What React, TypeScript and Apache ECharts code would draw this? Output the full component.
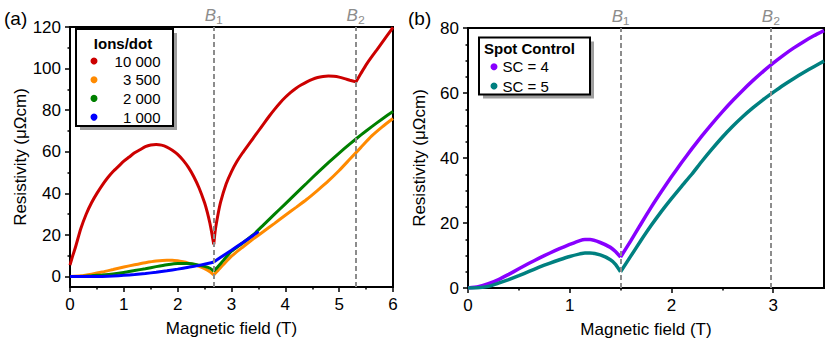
import React, { useEffect, useRef } from 'react';
import * as echarts from 'echarts';

const FONT = '"Liberation Sans", Arial, Helvetica, sans-serif';

// ---------- Panel (a): Ions/dot ----------
const ionsTitle = 'Ions/dot';
const ionsNames = ['10 000', '3 500', '2 000', '1 000'];
const ionsColors = ['#cc0000', '#ff8a00', '#008000', '#0000ff'];

const red_x = [0, 0.05, 0.1, 0.2, 0.3, 0.4, 0.5, 0.6, 0.7, 0.8, 0.9, 1.0, 1.1, 1.2, 1.3, 1.4, 1.5, 1.6, 1.7, 1.8, 1.9, 2.0, 2.1, 2.2, 2.3, 2.4, 2.5, 2.55, 2.6, 2.64, 2.67,
  2.7, 2.75, 2.8, 2.9, 3.0, 3.1, 3.2, 3.3, 3.4, 3.5, 3.6, 3.7, 3.8, 3.9, 4.0, 4.1, 4.2, 4.3, 4.4, 4.5, 4.6, 4.7, 4.8, 4.9, 5.0, 5.1, 5.2, 5.31,
  5.4, 5.5, 5.6, 5.7, 5.8, 5.9, 6.0];
const red_y = [5.5, 10, 14, 23, 30, 35.5, 40, 44, 47.5, 50.5, 53, 55.5, 57.5, 59.5, 61, 62.5, 63.3, 63.5, 63.2, 62.3, 60.8, 58.8, 56, 52.5, 48, 42.5, 35.5, 31, 25.5, 20, 15.5,
  22.5, 30, 36, 44.5, 50.5, 55.3, 59.3, 62.9, 66.4, 70, 73.6, 77.1, 80.4, 83.5, 86.2, 88.6, 90.6, 92.2, 93.6, 94.8, 95.7, 96.2, 96.4, 96.3, 95.9, 95.2, 94.4, 93.6,
  97.5, 101.8, 105.5, 109, 112.6, 116.2, 119.8];

const orange_x = [0, 0.2, 0.4, 0.6, 0.8, 1.0, 1.2, 1.4, 1.6, 1.8, 1.9, 2.0, 2.1, 2.2, 2.3, 2.4, 2.5, 2.6, 2.67,
  2.75, 2.85, 3.0, 3.2, 3.4, 3.6, 3.8, 4.0, 4.2, 4.4, 4.6, 4.8, 5.0, 5.2, 5.4, 5.6, 5.8, 6.0];
const orange_y = [0, 0.4, 1.2, 2.2, 3.4, 4.6, 5.7, 6.7, 7.5, 7.9, 7.9, 7.6, 7.1, 6.5, 5.8, 4.9, 3.8, 2.3, 0.8,
  3.0, 5.8, 9.8, 14, 18, 21.8, 25.6, 29.5, 33.3, 37.2, 41.5, 46, 51, 56.5, 62, 67.5, 72, 76];

const green_x = [0, 0.2, 0.4, 0.6, 0.8, 1.0, 1.2, 1.4, 1.6, 1.8, 2.0, 2.2, 2.4, 2.5, 2.6, 2.67,
  2.75, 2.85, 3.0, 3.2, 3.4, 3.6, 3.8, 4.0, 4.2, 4.4, 4.6, 4.8, 5.0, 5.2, 5.4, 5.6, 5.8, 6.0];
const green_y = [0, 0.1, 0.4, 0.8, 1.3, 2.0, 2.9, 3.8, 4.8, 5.7, 6.3, 6.3, 5.5, 4.9, 4.0, 2.6,
  4.8, 7.8, 12.2, 16, 20, 25, 30, 35, 40, 45, 50, 54.8, 59.4, 63.8, 68, 72, 75.8, 79.4];

const blue_x = [0, 0.4, 0.6, 0.8, 1.0, 1.2, 1.4, 1.6, 1.8, 2.0, 2.2, 2.4, 2.6, 2.67,
  2.8, 3.0, 3.2, 3.4, 3.5];
const blue_y = [0, 0, 0.1, 0.3, 0.6, 1.0, 1.5, 2.1, 2.8, 3.6, 4.5, 5.4, 6.5, 7.0,
  9.3, 12.7, 16.2, 19.8, 21.7];

const aBreaks = [[2.67, 5.31], [2.67], [2.67], [2.67]];
const aYTicks = [0, 20, 40, 60, 80, 100, 120];
const aYMinor = [10, 30, 50, 70, 90, 110];
const aBLines = [2.67, 5.31];

// ---------- Panel (b): Spot Control ----------
const scTitle = 'Spot Control';
const scNames = ['SC = 4', 'SC = 5'];
const scColors = ['#8800ff', '#008080'];

const sc_x = [0, 0.1, 0.2, 0.3, 0.4, 0.5, 0.6, 0.7, 0.8, 0.9, 1.0, 1.1, 1.15, 1.2, 1.3, 1.4, 1.45, 1.5,
  1.6, 1.7, 1.8, 1.9, 2.0, 2.1, 2.2, 2.3, 2.4, 2.5, 2.6, 2.7, 2.8, 2.9, 3.0, 3.1, 3.2, 3.3, 3.4, 3.5];
const sc4_y = [0, 0.4, 1.3, 2.6, 4.2, 5.9, 7.6, 9.2, 10.7, 12.1, 13.4, 14.6, 14.9, 14.9, 14.0, 12.5, 11.2, 9.5,
  14.5, 19.7, 24.8, 29.6, 34.2, 38.6, 42.8, 46.8, 50.6, 54.2, 57.6, 60.8, 63.8, 66.6, 69.2, 71.6, 73.8, 75.8, 77.6, 79.2];
const sc5_y = [0, 0.1, 0.5, 1.5, 2.6, 3.8, 5.1, 6.4, 7.6, 8.7, 9.7, 10.5, 10.8, 10.8, 10.2, 8.7, 7.3, 5.0,
  9.8, 14.6, 19.2, 23.5, 27.5, 31.3, 35.0, 39.0, 42.8, 46.4, 49.7, 52.7, 55.4, 57.9, 60.2, 62.4, 64.4, 66.3, 68.1, 69.8];

const bBreaks = [1.5];
const bXTicks = [0, 1, 2, 3];
const bXMinor = [0.5, 1.5, 2.5];
const bBLines = [1.5, 2.98];

const subs = ['\u2081', '\u2082'];

function segments(xs: number[], ys: number[], breaks: number[]) {
  const out: number[][][] = [];
  let cur: number[][] = [];
  xs.forEach((x, i) => {
    cur.push([x, ys[i]]);
    if (breaks.includes(x) && i < xs.length - 1) {
      out.push(cur);
      cur = [[x, ys[i]]];
    }
  });
  out.push(cur);
  return out;
}

const txt = { color: '#000', fontSize: 17, fontFamily: FONT };

function markLineFor(values: number[]) {
  return {
    silent: true,
    symbol: ['none', 'none'],
    lineStyle: { color: '#8c8c8c', type: [5, 3], width: 2 },
    label: {
      show: true,
      position: 'end',
      distance: 2,
      formatter: (p: any) => `{i|B}{s|${subs[p.dataIndex]}}`,
      rich: {
        i: { fontSize: 17, fontStyle: 'italic', color: '#8c8c8c', fontFamily: FONT },
        s: { fontSize: 19, color: '#8c8c8c', fontFamily: FONT },
      },
    },
    data: values.map((v) => ({ xAxis: v })),
  };
}

export default function App() {
  const ref = useRef<HTMLDivElement>(null);
  useEffect(() => {
    if (!ref.current) return;
    const chart = echarts.init(ref.current, undefined, { renderer: 'svg' });

    const series: any[] = [];
    const aData = [[red_x, red_y], [orange_x, orange_y], [green_x, green_y], [blue_x, blue_y]];
    aData.forEach(([xs, ys], k) => {
      segments(xs, ys, aBreaks[k]).forEach((seg, j) => {
        const s: any = {
          type: 'line', name: ionsNames[k], xAxisIndex: 0, yAxisIndex: 0,
          data: seg, showSymbol: false, smooth: 0.2, color: ionsColors[k],
          lineStyle: { width: 3, color: ionsColors[k] }, emphasis: { disabled: true },
        };
        if (k === 0 && j === 0) s.markLine = markLineFor(aBLines);
        series.push(s);
      });
    });
    [sc4_y, sc5_y].forEach((ys, k) => {
      segments(sc_x, ys, bBreaks).forEach((seg, j) => {
        const s: any = {
          type: 'line', name: scNames[k], xAxisIndex: 1, yAxisIndex: 2,
          data: seg, showSymbol: false, smooth: 0.2, color: scColors[k],
          lineStyle: { width: 3.5, color: scColors[k] }, emphasis: { disabled: true },
        };
        if (k === 0 && j === 0) s.markLine = markLineFor(bBLines);
        series.push(s);
      });
    });

    const axisLine = { show: true, onZero: false, lineStyle: { color: '#000', width: 2 } };
    const tickStyle = { color: '#000', width: 1.5 };

    chart.setOption({
      animation: false,
      backgroundColor: '#fff',
      grid: [
        { left: 70, top: 27, width: 323, height: 260, show: true, borderColor: '#000', borderWidth: 2, backgroundColor: 'transparent' },
        { left: 468, top: 28, width: 356, height: 260, show: true, borderColor: '#000', borderWidth: 2, backgroundColor: 'transparent' },
      ],
      xAxis: [
        {
          type: 'value', gridIndex: 0, min: 0, max: 6, interval: 1,
          axisLine, axisTick: { show: true, length: 5, lineStyle: tickStyle },
          minorTick: { show: true, splitNumber: 2, length: 2.5, lineStyle: tickStyle },
          axisLabel: { ...txt, margin: 9 }, splitLine: { show: false }, minorSplitLine: { show: false },
          name: 'Magnetic field (T)', nameLocation: 'middle', nameGap: 33, nameTextStyle: txt,
        },
        {
          type: 'value', gridIndex: 1, min: 0, max: 3.5,
          axisLine, axisTick: { show: true, length: 5, lineStyle: tickStyle, customValues: bXTicks },
          axisLabel: { ...txt, margin: 9, customValues: bXTicks }, splitLine: { show: false },
          name: 'Magnetic field (T)', nameLocation: 'middle', nameGap: 33, nameTextStyle: txt,
        },
        {
          type: 'value', gridIndex: 1, min: 0, max: 3.5, position: 'bottom',
          axisLine: { show: false }, axisLabel: { show: false }, splitLine: { show: false },
          axisTick: { show: true, length: 2.5, lineStyle: tickStyle, customValues: bXMinor },
        },
      ],
      yAxis: [
        {
          type: 'value', gridIndex: 0, min: -5, max: 120,
          axisLine, axisTick: { show: true, length: 5, lineStyle: tickStyle, customValues: aYTicks },
          axisLabel: { ...txt, margin: 9, customValues: aYTicks }, splitLine: { show: false },
          name: 'Resistivity (\u03bc\u03a9cm)', nameLocation: 'middle', nameRotate: 90, nameGap: 41, nameTextStyle: txt,
        },
        {
          type: 'value', gridIndex: 0, min: -5, max: 120, position: 'left',
          axisLine: { show: false }, axisLabel: { show: false }, splitLine: { show: false },
          axisTick: { show: true, length: 2.5, lineStyle: tickStyle, customValues: aYMinor },
        },
        {
          type: 'value', gridIndex: 1, min: 0, max: 80, interval: 20,
          axisLine, axisTick: { show: true, length: 5, lineStyle: tickStyle },
          minorTick: { show: true, splitNumber: 4, length: 2.5, lineStyle: tickStyle },
          axisLabel: { ...txt, margin: 9 }, splitLine: { show: false }, minorSplitLine: { show: false },
          name: 'Resistivity (\u03bc\u03a9cm)', nameLocation: 'middle', nameRotate: 90, nameGap: 40, nameTextStyle: txt,
        },
      ],
      legend: [
        {
          data: ionsNames, orient: 'vertical', left: 90.5, top: 53.5, itemGap: 3.7, padding: 0,
          icon: 'circle', itemWidth: 7, itemHeight: 7, selectedMode: false, z: 10,
          formatter: (n: string) => `{n|${n}}`,
          textStyle: { rich: { n: { width: 58, align: 'right', fontSize: 15, lineHeight: 15, color: '#000', fontFamily: FONT } } },
        },
        {
          data: scNames, orient: 'vertical', left: 490.5, top: 59.2, itemGap: 4.3, padding: 0,
          icon: 'circle', itemWidth: 7, itemHeight: 7, selectedMode: false, z: 10,
          textStyle: { fontSize: 15, lineHeight: 15, color: '#000', fontFamily: FONT },
        },
      ],
      graphic: [
        {
          type: 'rect', z: 4, silent: true, shape: { x: 80, y: 33, width: 97, height: 97 },
          style: { fill: '#9e9e9e' },
        },
        {
          type: 'rect', z: 5, silent: true, shape: { x: 76, y: 29, width: 97, height: 97 },
          style: { fill: '#fff', stroke: '#000', lineWidth: 2 },
        },
        {
          type: 'text', z: 6, silent: true, x: 123, y: 43,
          style: { text: ionsTitle, fontSize: 15, fontWeight: 'bold', fontFamily: FONT, fill: '#000', align: 'center', verticalAlign: 'middle' },
        },
        {
          type: 'rect', z: 4, silent: true, shape: { x: 483, y: 41.5, width: 111, height: 57 },
          style: { fill: '#9e9e9e' },
        },
        {
          type: 'rect', z: 5, silent: true, shape: { x: 479, y: 37.5, width: 111, height: 57 },
          style: { fill: '#fff', stroke: '#000', lineWidth: 2 },
        },
        {
          type: 'text', z: 6, silent: true, x: 484, y: 48.5,
          style: { text: scTitle, fontSize: 15, fontWeight: 'bold', fontFamily: FONT, fill: '#000', align: 'left', verticalAlign: 'middle' },
        },
        {
          type: 'text', z: 6, silent: true, x: 4, y: 18.5,
          style: { text: '(a)', fontSize: 19, fontFamily: FONT, fill: '#000', align: 'left', verticalAlign: 'middle' },
        },
        {
          type: 'text', z: 6, silent: true, x: 408, y: 18.5,
          style: { text: '(b)', fontSize: 19, fontFamily: FONT, fill: '#000', align: 'left', verticalAlign: 'middle' },
        },
      ],
      series,
    });
    return () => chart.dispose();
  }, []);
  return <div ref={ref} style={{ position: 'absolute', left: 0, top: 0, width: 830, height: 345 }} />;
}
